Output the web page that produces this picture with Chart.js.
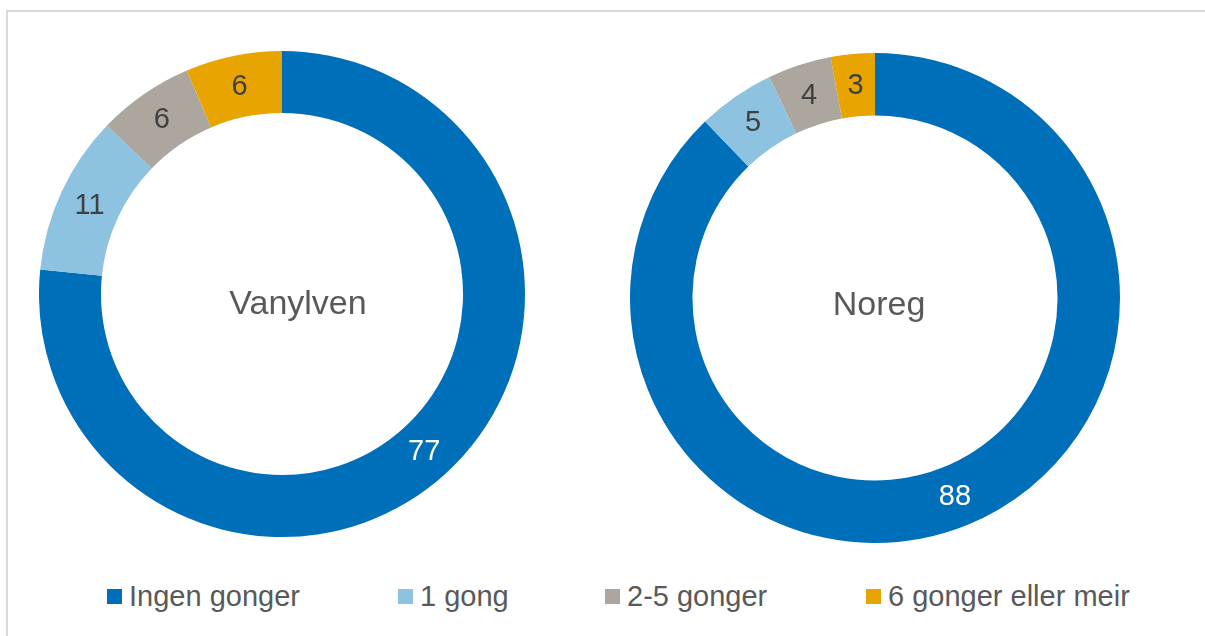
<!DOCTYPE html>
<html>
<head>
<meta charset="utf-8">
<script src="https://cdn.jsdelivr.net/npm/chart.js@4/dist/chart.umd.min.js"></script>
<style>
  html, body { margin: 0; padding: 0; background: #fff; }
  body { width: 1205px; height: 636px; position: relative; overflow: hidden; font-family: "Liberation Sans", Arial, sans-serif; }
  #frame { position: absolute; left: 6px; top: 10px; width: 1300px; height: 700px; border: 2px solid #DADADA; box-sizing: border-box; }
  .wrap { position: absolute; }
  .title { position: absolute; font-size: 34px; color: #595959; transform: translate(-50%, -50%); white-space: nowrap; }
  .leg { position: absolute; top: 580px; height: 32px; display: flex; align-items: center; font-size: 29px; color: #595959; white-space: nowrap; }
  .leg .sw { width: 15px; height: 15px; margin-right: 7px; }
</style>
</head>
<body>
<div id="frame"></div>
<div class="wrap" id="w1" style="left:39px; top:51px; width:486px; height:486px;"><canvas id="c1"></canvas></div>
<div class="wrap" id="w2" style="left:630px; top:53px; width:490px; height:490px;"><canvas id="c2"></canvas></div>
<div class="title" id="t1" style="left:298px; top:302px;"></div>
<div class="title" id="t2" style="left:879px; top:303px;"></div>
<div id="legend"></div>
<script>
const categories = ["Ingen gonger", "1 gong", "2-5 gonger", "6 gonger eller meir"];
const colors = ["#006FBA", "#8DC3E0", "#ACA69F", "#E8A400"];
// shares (percent); labels show rounded values
const vanylvenValues = [76.6, 10.6, 6.4, 6.4];
const noregValues = [87.8, 5.1, 4.2, 2.9];
const chartTitles = ["Vanylven", "Noreg"];
const labelColors = ["#FFFFFF", "#404040", "#404040", "#404040"];

const legendX = [107, 398, 605, 866];

const labelPlugin = {
  id: 'arcLabels',
  afterDatasetsDraw(chart) {
    const ctx = chart.ctx;
    const meta = chart.getDatasetMeta(0);
    const data = chart.data.datasets[0].data;
    ctx.save();
    ctx.font = '29px "Liberation Sans", Arial, sans-serif';
    ctx.textAlign = 'center';
    ctx.textBaseline = 'middle';
    meta.data.forEach((arc, i) => {
      const p = arc.tooltipPosition();
      ctx.fillStyle = labelColors[i];
      ctx.fillText(String(Math.round(data[i])), p.x, p.y + 1);
    });
    ctx.restore();
  }
};

function makeChart(id, values) {
  return new Chart(document.getElementById(id), {
    type: 'doughnut',
    data: {
      labels: categories,
      datasets: [{
        data: values,
        backgroundColor: colors,
        borderWidth: 0,
        hoverOffset: 0,
        offset: 0
      }]
    },
    options: {
      responsive: true,
      maintainAspectRatio: false,
      animation: false,
      cutout: '74.5%',
      layout: { padding: 0 },
      plugins: {
        legend: { display: false },
        tooltip: { enabled: false }
      },
      events: []
    },
    plugins: [labelPlugin]
  });
}

makeChart('c1', vanylvenValues);
makeChart('c2', noregValues);

document.getElementById('t1').textContent = chartTitles[0];
document.getElementById('t2').textContent = chartTitles[1];

const legend = document.getElementById('legend');
categories.forEach((c, i) => {
  const item = document.createElement('div');
  item.className = 'leg';
  item.style.left = legendX[i] + 'px';
  const sw = document.createElement('span');
  sw.className = 'sw';
  sw.style.background = colors[i];
  const tx = document.createElement('span');
  tx.textContent = c;
  item.appendChild(sw);
  item.appendChild(tx);
  legend.appendChild(item);
});
</script>
</body>
</html>
